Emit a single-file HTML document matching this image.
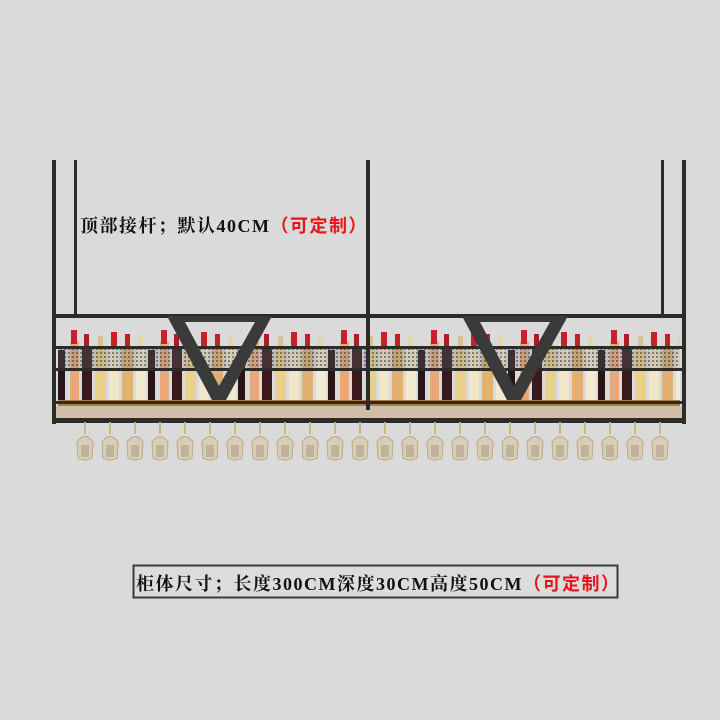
<!DOCTYPE html>
<html><head><meta charset="utf-8"><style>
html,body{margin:0;padding:0;background:#dadada;}
.wrap{position:relative;width:720px;height:720px;overflow:hidden;background:#dadada;}
.t{position:absolute;font-family:"Liberation Serif","Noto Serif CJK SC",serif;font-weight:bold;color:#111;white-space:nowrap;letter-spacing:1.5px;}
.r{color:#e8141c;font-family:"Liberation Sans","Noto Sans CJK SC",sans-serif;}
</style></head><body><div class="wrap">
<svg width="720" height="720" style="position:absolute;left:0;top:0">
<defs>
<pattern id="bot" x="66" y="328" width="90" height="76" patternUnits="userSpaceOnUse">
<rect x="4" y="14" width="9" height="60" fill="#e9a878"/><rect x="5" y="2" width="6" height="14" fill="#c8202a"/>
<rect x="16" y="18" width="10" height="56" fill="#3a1a1c"/><rect x="18" y="6" width="5" height="14" fill="#b01a22"/>
<rect x="29" y="20" width="11" height="54" fill="#e8d28a"/><rect x="32" y="8" width="5" height="14" fill="#d8c090"/>
<rect x="43" y="16" width="10" height="58" fill="#f0e6c8"/><rect x="45" y="4" width="6" height="14" fill="#c8202a"/>
<rect x="56" y="18" width="11" height="56" fill="#e2b070"/><rect x="59" y="6" width="5" height="14" fill="#c02026"/>
<rect x="70" y="20" width="10" height="54" fill="#f2ead0"/><rect x="72" y="8" width="5" height="14" fill="#e0d6b0"/>
<rect x="82" y="22" width="7" height="52" fill="#2a1416"/>
</pattern>
<pattern id="mesh" x="0" y="0" width="4" height="4" patternUnits="userSpaceOnUse">
<rect width="4" height="4" fill="#777" opacity=".25"/><rect width="2" height="2" fill="#333" opacity=".5"/>
</pattern>
<pattern id="gl" x="73" y="420" width="25" height="44" patternUnits="userSpaceOnUse">
<line x1="12" y1="2" x2="12" y2="14" stroke="#c8b888" stroke-width="2"/>
<path d="M4 22 Q12 11 20 22 L19 38 Q12 42 5 38 Z" fill="#d8cfb8" stroke="#b8a880" stroke-width="1"/>
<rect x="8" y="25" width="8" height="12" fill="#a89880" opacity=".5"/>
</pattern>
</defs>
<rect x="58" y="328" width="622" height="76" fill="url(#bot)"/>
<rect x="58" y="400" width="622" height="6" fill="#b07a48"/>
<rect x="56" y="406" width="626" height="12" fill="#c9a078" opacity=".5"/>
<rect x="58" y="348" width="622" height="22" fill="url(#mesh)"/>
<g fill="#2b2b2b">
<rect x="52" y="160" width="4" height="264"/>
<rect x="74" y="160" width="3" height="158"/>
<rect x="366" y="160" width="4" height="250"/>
<rect x="661" y="160" width="3" height="158"/>
<rect x="682" y="160" width="4" height="264"/>
<rect x="52" y="314" width="634" height="4"/>
<rect x="52" y="346" width="634" height="3"/>
<rect x="52" y="368" width="634" height="3"/>
<rect x="52" y="401" width="634" height="3"/>
<rect x="52" y="418" width="634" height="5"/>
</g>
<path d="M167 316 L272 316 L226 400 L212 400 Z M185 322 L219 386 L255 322 Z" fill="#3a3a3a" fill-rule="evenodd"/>
<path d="M462 316 L568 316 L521 400 L507 400 Z M480 322 L514 386 L550 322 Z" fill="#3a3a3a" fill-rule="evenodd"/>
<rect x="73" y="420" width="600" height="44" fill="url(#gl)"/>
<rect x="133.5" y="565.5" width="484" height="32" fill="#dcdcdc" stroke="#3a3a3a" stroke-width="2"/>
</svg>
<div class="t" style="left:80px;top:212px;font-size:18px;">顶部接杆；默认40CM<span class="r">（可定制）</span></div>
<div class="t" style="left:136px;top:570px;font-size:18px;">柜体尺寸；长度300CM深度30CM高度50CM<span class="r">（可定制）</span></div>
</div></body></html>
